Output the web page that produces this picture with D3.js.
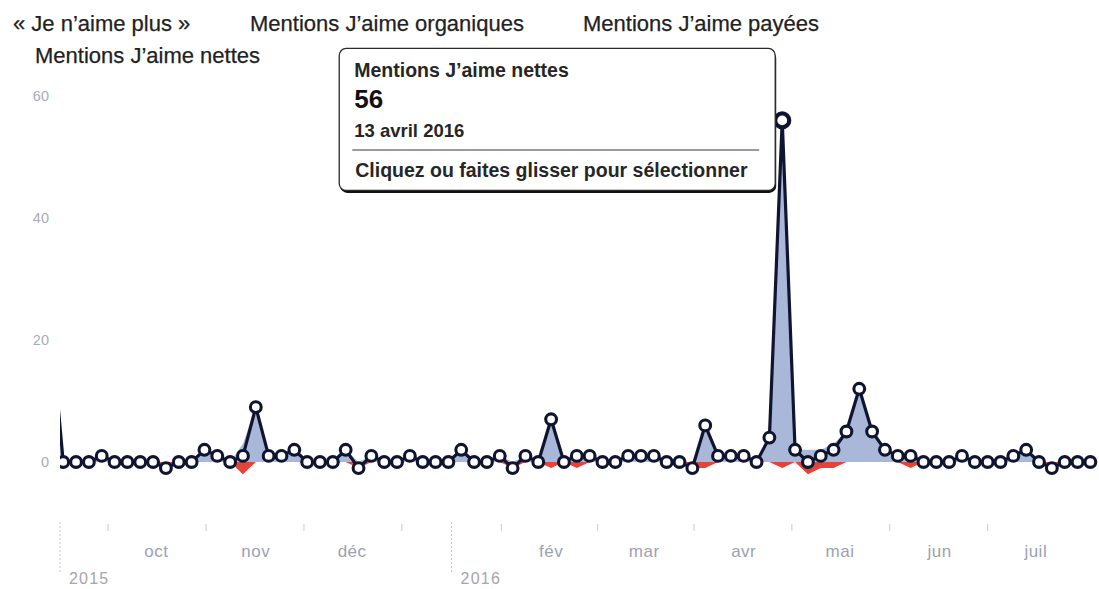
<!DOCTYPE html>
<html>
<head>
<meta charset="utf-8">
<script src="https://cdn.jsdelivr.net/npm/d3@7"></script>
<style>
  html, body { margin: 0; padding: 0; background: #fff; }
  svg { display: block; font-family: "Liberation Sans", Arial, Helvetica, sans-serif; }
</style>
</head>
<body>
<svg id="chart" width="1099" height="589"></svg>
<script>
// ---- data ---------------------------------------------------------------
const legendLabels = ["« Je n’aime plus »", "Mentions J’aime organiques", "Mentions J’aime payées", "Mentions J’aime nettes"];

// one point every four days; the first one sits just before the visible range
const dates = [
  "2015-08-29",
  "2015-09-02","2015-09-06","2015-09-10","2015-09-14","2015-09-18","2015-09-22","2015-09-26","2015-09-30",
  "2015-10-04","2015-10-08","2015-10-12","2015-10-16","2015-10-20","2015-10-24","2015-10-28",
  "2015-11-01","2015-11-05","2015-11-09","2015-11-13","2015-11-17","2015-11-21","2015-11-25","2015-11-29",
  "2015-12-03","2015-12-07","2015-12-11","2015-12-15","2015-12-19","2015-12-23","2015-12-27","2015-12-31",
  "2016-01-04","2016-01-08","2016-01-12","2016-01-16","2016-01-20","2016-01-24","2016-01-28",
  "2016-02-01","2016-02-05","2016-02-09","2016-02-13","2016-02-17","2016-02-21","2016-02-25","2016-02-29",
  "2016-03-04","2016-03-08","2016-03-12","2016-03-16","2016-03-20","2016-03-24","2016-03-28",
  "2016-04-01","2016-04-05","2016-04-09","2016-04-13","2016-04-17","2016-04-21","2016-04-25","2016-04-29",
  "2016-05-03","2016-05-07","2016-05-11","2016-05-15","2016-05-19","2016-05-23","2016-05-27","2016-05-31",
  "2016-06-04","2016-06-08","2016-06-12","2016-06-16","2016-06-20","2016-06-24","2016-06-28",
  "2016-07-02","2016-07-06","2016-07-10","2016-07-14","2016-07-18"
];

const organicLikes = [
  23,
  0,0,0,1,0,0,0,0,
  0,0,0,2,1,0,3,
  9,1,1,2,0,0,0,2,
  0,1,0,0,1,0,0,0,
  2,0,0,1,0,1,0,
  8,0,2,1,0,0,1,1,
  1,0,0,0,7,1,1,
  1,0,4,57,2,2,2,3,
  5,12,5,2,1,2,0,0,
  0,1,0,0,0,1,2,
  0,0,0,0,0
];

const unlikes = [
  0,
  0,0,0,0,0,0,0,0,
  1,0,0,0,0,0,2,
  0,0,0,0,0,0,0,0,
  1,0,0,0,0,0,0,0,
  0,0,0,0,1,0,0,
  1,0,1,0,0,0,0,0,
  0,0,0,1,1,0,0,
  0,0,0,1,0,2,1,1,
  0,0,0,0,0,1,0,0,
  0,0,0,0,0,0,0,
  0,1,0,0,0
];

const netLikes = [
  23,
  0,0,0,1,0,0,0,0,
  -1,0,0,2,1,0,1,
  9,1,1,2,0,0,0,2,
  -1,1,0,0,1,0,0,0,
  2,0,0,1,-1,1,0,
  7,0,1,1,0,0,1,1,
  1,0,0,-1,6,1,1,
  1,0,4,56,2,0,1,2,
  5,12,5,2,1,1,0,0,
  0,1,0,0,0,1,2,
  0,-1,0,0,0
];

const yTicks = [0, 20, 40, 60];
const monthLabels = ["oct", "nov", "déc", "fév", "mar", "avr", "mai", "jun", "juil"];
const monthStarts = ["2015-10-01","2015-11-01","2015-12-01","2016-02-01","2016-03-01","2016-04-01","2016-05-01","2016-06-01","2016-07-01"];
const yearLabels = ["2015", "2016"];
const yearStarts = ["2015-09-01", "2016-01-01"];

const tooltipTitle = "Mentions J’aime nettes";
const tooltipHint = "Cliquez ou faites glisser pour sélectionner";
const highlightDate = "2016-04-13";

// ---- setup --------------------------------------------------------------
const parse = d3.timeParse("%Y-%m-%d");
const fr = d3.timeFormatLocale({
  dateTime: "%A %e %B %Y à %X", date: "%d/%m/%Y", time: "%H:%M:%S",
  periods: ["AM", "PM"],
  days: ["dimanche","lundi","mardi","mercredi","jeudi","vendredi","samedi"],
  shortDays: ["dim.","lun.","mar.","mer.","jeu.","ven.","sam."],
  months: ["janvier","février","mars","avril","mai","juin","juillet","août","septembre","octobre","novembre","décembre"],
  shortMonths: ["janv.","févr.","mars","avr.","mai","juin","juil.","août","sept.","oct.","nov.","déc."]
});
const fmtLong = fr.format("%-d %B %Y");

const points = dates.map((d, i) => ({
  date: parse(d), organic: organicLikes[i], unlikes: unlikes[i], net: netLikes[i]
}));

const W = 1099, H = 589;
const svg = d3.select("#chart");

const x = d3.scaleTime()
  .domain([parse("2015-09-01"), parse("2016-07-21")])
  .range([60, 1100]);
const y = d3.scaleLinear().domain([0, 60]).range([462, 96]);

const navy = "#0f1430";

// ---- legend -------------------------------------------------------------
const legendPos = [[13, 31], [250, 31], [583, 31], [35, 63]];
svg.append("g").selectAll("text").data(legendLabels).join("text")
  .attr("x", (d, i) => legendPos[i][0])
  .attr("y", (d, i) => legendPos[i][1])
  .attr("font-size", 22)
  .attr("fill", "#222")
  .attr("stroke", "#222")
  .attr("stroke-width", 0.25)
  .text(d => d);

// ---- y axis labels -------------------------------------------------------
svg.append("g").selectAll("text").data(yTicks).join("text")
  .attr("x", 49)
  .attr("y", d => y(d) + 5)
  .attr("text-anchor", "end")
  .attr("font-size", 14.5)
  .attr("fill", "#a9acb8")
  .text(d => d);

// ---- x axis -------------------------------------------------------------
const axisG = svg.append("g");
const monthBounds = d3.timeMonth.range(parse("2015-09-01"), parse("2016-07-02"));
const midTicks = d3.pairs(monthBounds).map(([a, b]) => (x(a) + x(b)) / 2);
axisG.selectAll("line.tick").data(midTicks).join("line")
  .attr("class", "tick")
  .attr("x1", d => d).attr("x2", d => d)
  .attr("y1", 524).attr("y2", 531)
  .attr("stroke", "#c9cbd2").attr("stroke-width", 1);

axisG.selectAll("text.month").data(monthLabels).join("text")
  .attr("class", "month")
  .attr("x", (d, i) => x(parse(monthStarts[i])))
  .attr("y", 557)
  .attr("text-anchor", "middle")
  .attr("font-size", 17)
  .attr("letter-spacing", 0.5)
  .attr("fill", "#9da1b1")
  .text(d => d);

const yearG = axisG.selectAll("g.year").data(yearLabels).join("g").attr("class", "year");
yearG.append("line")
  .attr("x1", (d, i) => x(parse(yearStarts[i])))
  .attr("x2", (d, i) => x(parse(yearStarts[i])))
  .attr("y1", 522).attr("y2", 572)
  .attr("stroke", "#c3c5cc").attr("stroke-width", 1)
  .attr("stroke-dasharray", "2,2");
yearG.append("text")
  .attr("x", (d, i) => x(parse(yearStarts[i])) + 9)
  .attr("y", 584)
  .attr("font-size", 16)
  .attr("letter-spacing", 1.2)
  .attr("fill", "#a4a6ad")
  .text(d => d);

// ---- series -------------------------------------------------------------
svg.append("clipPath").attr("id", "plotClip")
  .append("rect")
  .attr("x", x.range()[0]).attr("y", 0)
  .attr("width", W - x.range()[0]).attr("height", H);

const plot = svg.append("g").attr("clip-path", "url(#plotClip)");

const organicArea = d3.area()
  .x(d => x(d.date)).y0(y(0)).y1(d => y(d.organic));
const unlikeArea = d3.area()
  .x(d => x(d.date)).y0(y(0)).y1(d => y(-d.unlikes));
const netLine = d3.line()
  .x(d => x(d.date)).y(d => y(d.net));

plot.append("path").datum(points)
  .attr("d", organicArea)
  .attr("fill", "#a9b8d9");
plot.append("path").datum(points)
  .attr("d", unlikeArea)
  .attr("fill", "#e0443a");
plot.append("path").datum(points)
  .attr("d", netLine)
  .attr("fill", "none")
  .attr("stroke", navy)
  .attr("stroke-width", 3.2)
  .attr("stroke-linejoin", "round");

const hiTime = +parse(highlightDate);
const visible = points.filter(p => p.date >= x.domain()[0]);
plot.selectAll("circle").data(visible).join("circle")
  .attr("cx", d => x(d.date))
  .attr("cy", d => y(d.net))
  .attr("r", d => +d.date === hiTime ? 7 : 5.4)
  .attr("fill", "#fff")
  .attr("stroke", navy)
  .attr("stroke-width", d => +d.date === hiTime ? 4.2 : 3.1);

// ---- tooltip ------------------------------------------------------------
const hi = points.find(p => +p.date === hiTime);
const hx = x(hi.date), hy = y(hi.net);
const tw = 436, th = 142;
const tx = hx - 7 - tw, ty = hy - 72;
const tip = svg.append("g").attr("transform", `translate(${tx},${ty})`);
tip.append("rect")
  .attr("x", 1).attr("y", 2.5).attr("width", tw).attr("height", th)
  .attr("rx", 7).attr("fill", "#111");
tip.append("rect")
  .attr("x", 0).attr("y", 0).attr("width", tw).attr("height", th)
  .attr("rx", 7).attr("fill", "#fff")
  .attr("stroke", "#2a2a2a").attr("stroke-width", 1.3);
tip.append("text")
  .attr("x", 15).attr("y", 29)
  .attr("font-size", 19.5).attr("font-weight", "bold").attr("fill", "#262626")
  .text(tooltipTitle);
tip.append("text")
  .attr("x", 15).attr("y", 60)
  .attr("font-size", 26).attr("font-weight", "bold").attr("fill", "#111")
  .text(hi.net);
tip.append("text")
  .attr("x", 15).attr("y", 89)
  .attr("font-size", 18.5).attr("font-weight", "bold").attr("fill", "#262626")
  .text(fmtLong(hi.date));
tip.append("line")
  .attr("x1", 13).attr("x2", tw - 16)
  .attr("y1", 101.5).attr("y2", 101.5)
  .attr("stroke", "#777b86").attr("stroke-width", 1.5);
tip.append("text")
  .attr("x", 16).attr("y", 129)
  .attr("font-size", 19.5).attr("font-weight", "bold").attr("fill", "#262626")
  .text(tooltipHint);
</script>
</body>
</html>
